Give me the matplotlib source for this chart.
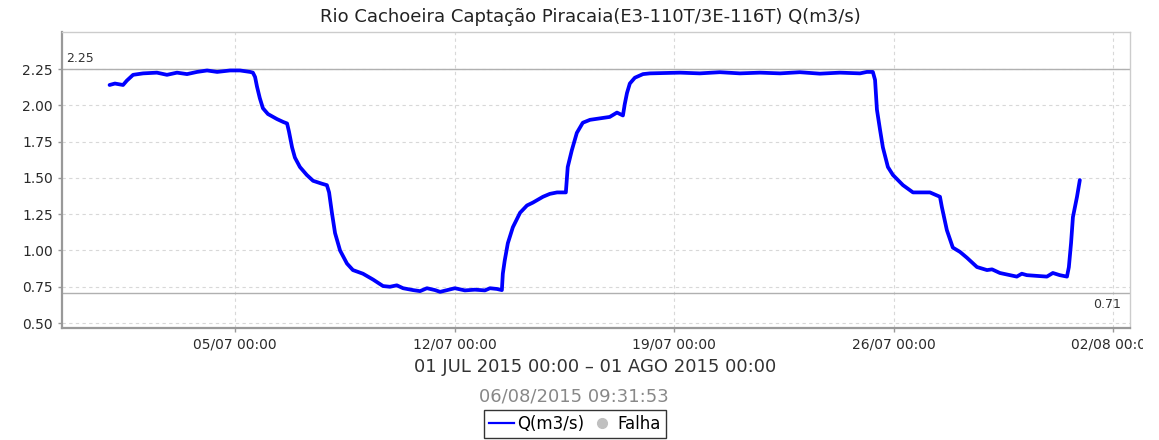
import datetime as dt
import matplotlib
matplotlib.use("Agg")
import matplotlib.pyplot as plt
import matplotlib.dates as mdates
from matplotlib.lines import Line2D
from matplotlib.transforms import Bbox, TransformedBbox

# ---------------------------------------------------------------------------
# Data: days since 01/07/2015 00:00 and flow Q (m3/s)
# ---------------------------------------------------------------------------
START = dt.datetime(2015, 7, 1)
days = [0.00, 0.17, 0.43, 0.55, 0.75, 1.07, 1.51, 1.83, 2.15, 2.47, 2.79,
        3.11, 3.43, 3.84, 4.16, 4.48, 4.57, 4.64, 4.70, 4.79, 4.89, 5.05,
        5.34, 5.54, 5.66, 5.72, 5.82, 5.91, 6.07, 6.29, 6.49, 6.77, 6.93,
        7.00, 7.09, 7.19, 7.35, 7.57, 7.76, 8.08, 8.40, 8.72, 8.94, 9.16,
        9.36, 9.68, 9.90, 10.12, 10.38, 10.54, 11.01, 11.33, 11.65, 11.97,
        12.13, 12.35, 12.51, 12.54, 12.60, 12.70, 12.86, 13.09, 13.31, 13.50,
        13.82, 14.04, 14.27, 14.55, 14.58, 14.61, 14.74, 14.90, 15.09, 15.32,
        15.63, 15.95, 16.18, 16.37, 16.43, 16.50, 16.59, 16.75, 17.01, 17.23,
        18.19, 18.82, 19.46, 20.10, 20.74, 21.38, 22.01, 22.65, 23.29, 23.93,
        24.15, 24.34, 24.41, 24.47, 24.57, 24.66, 24.82, 24.98, 25.30, 25.62,
        26.16, 26.48, 26.54, 26.70, 26.89, 27.12, 27.34, 27.66, 27.98, 28.14,
        28.39, 28.71, 28.93, 29.09, 29.25, 29.57, 29.89, 30.08, 30.30, 30.53,
        30.59, 30.66, 30.72, 30.85, 30.94]
flow = [2.14, 2.15, 2.14, 2.17, 2.21, 2.22, 2.225, 2.21, 2.225, 2.215, 2.23,
        2.24, 2.23, 2.24, 2.24, 2.23, 2.225, 2.195, 2.13, 2.05, 1.98, 1.94,
        1.905, 1.885, 1.875, 1.82, 1.71, 1.64, 1.575, 1.52, 1.48, 1.46, 1.45,
        1.40, 1.26, 1.12, 1.00, 0.91, 0.865, 0.84, 0.80, 0.755, 0.75, 0.76,
        0.74, 0.727, 0.72, 0.74, 0.727, 0.715, 0.74, 0.725, 0.73, 0.725,
        0.74, 0.735, 0.727, 0.84, 0.93, 1.05, 1.16, 1.26, 1.31, 1.33,
        1.37, 1.39, 1.40, 1.40, 1.485, 1.575, 1.69, 1.81, 1.88, 1.90,
        1.91, 1.92, 1.95, 1.93, 2.01, 2.085, 2.15, 2.19, 2.215, 2.22,
        2.225, 2.22, 2.228, 2.22, 2.225, 2.22, 2.228, 2.218, 2.225, 2.22,
        2.23, 2.23, 2.175, 1.97, 1.83, 1.71, 1.575, 1.52, 1.45, 1.40,
        1.40, 1.37, 1.30, 1.14, 1.02, 0.99, 0.95, 0.886, 0.865, 0.87,
        0.845, 0.83, 0.82, 0.84, 0.83, 0.825, 0.82, 0.845, 0.83, 0.82,
        0.885, 1.05, 1.23, 1.37, 1.485]

yticks = [0.50, 0.75, 1.00, 1.25, 1.50, 1.75, 2.00, 2.25]
xtick_dates = [dt.datetime(2015, 7, 5), dt.datetime(2015, 7, 12),
               dt.datetime(2015, 7, 19), dt.datetime(2015, 7, 26),
               dt.datetime(2015, 8, 2)]
q_max = 2.25
q_min = 0.71

title = "Rio Cachoeira Captação Piracaia(E3-110T/3E-116T) Q(m3/s)"
period = "01 JUL 2015 00:00 – 01 AGO 2015 00:00"
stamp = "06/08/2015 09:31:53"

times = [START + dt.timedelta(days=d) for d in days]

fig = plt.figure(figsize=(11.59, 4.40), dpi=100)
ax = fig.add_axes([62 / 1159, 1 - 328 / 440, (1130 - 62) / 1159, (328 - 32) / 440])

ax.plot(times, flow, color="#0000ff", linewidth=2.7,
        solid_joinstyle="round", solid_capstyle="round")

# min / max marker lines
ax.axhline(q_max, color="#b0b0b0", linewidth=1.0, zorder=1)
ax.axhline(q_min, color="#b0b0b0", linewidth=1.0, zorder=1)
ax.text(0.004, q_max + 0.025, f"{q_max:.2f}", transform=ax.get_yaxis_transform(),
        fontsize=9, color="#333333", ha="left", va="bottom")
ax.text(0.992, q_min - 0.04, f"{q_min:.2f}", transform=ax.get_yaxis_transform(),
        fontsize=9, color="#333333", ha="right", va="top")

ax.set_xlim(START - dt.timedelta(days=1.517), START + dt.timedelta(days=32.54))
ax.set_ylim(0.466, 2.505)
ax.set_yticks(yticks)
ax.set_yticklabels([f"{v:.2f}" for v in yticks])
ax.set_xticks(xtick_dates)
ax.xaxis.set_major_formatter(mdates.DateFormatter("%d/%m %H:%M"))

ax.grid(True, color="#d8d8d8", linestyle=(0, (3, 3)), linewidth=0.8)
ax.set_axisbelow(True)
ax.tick_params(axis="both", labelsize=10, labelcolor="#2a2a2a", color="#999999",
               length=3, width=1)

for side in ("left", "bottom"):
    ax.spines[side].set_color("#999999")
    ax.spines[side].set_linewidth(1.6)
for side in ("top", "right"):
    ax.spines[side].set_color("#cccccc")
    ax.spines[side].set_linewidth(1.0)

fig.text(590 / 1159, 1 - 17 / 440, title, ha="center", va="center",
         fontsize=13, color="#222222")
fig.text(595 / 1159, 1 - 367 / 440, period, ha="center", va="center",
         fontsize=13, color="#333333")
fig.text(574 / 1159, 1 - 396 / 440, stamp, ha="center", va="center",
         fontsize=13, color="#888888")

handles = [Line2D([], [], color="#0000ff", linewidth=1.6),
           Line2D([], [], linestyle="none", marker="o", markersize=7,
                  color="#c0c0c0")]
leg = fig.legend(handles, ["Q(m3/s)", "Falha"], loc="center",
                 bbox_to_anchor=(575 / 1159, 1 - 424 / 440), ncol=2,
                 frameon=True, fancybox=False, fontsize=12, handlelength=1.5,
                 handletextpad=0.2, columnspacing=0.3, borderpad=0.3,
                 borderaxespad=0)
leg.get_frame().set_edgecolor("black")
leg.get_frame().set_linewidth(1.0)

# the last date label runs off the canvas in the original
fig.canvas.draw()
clip = TransformedBbox(Bbox.from_extents(0, 0, 1143 / 1159, 1), fig.transFigure)
last = ax.xaxis.get_major_ticks()[-1].label1
last.set_clip_box(clip)
last.set_clip_on(True)

fig.savefig("out.png", dpi=100)
